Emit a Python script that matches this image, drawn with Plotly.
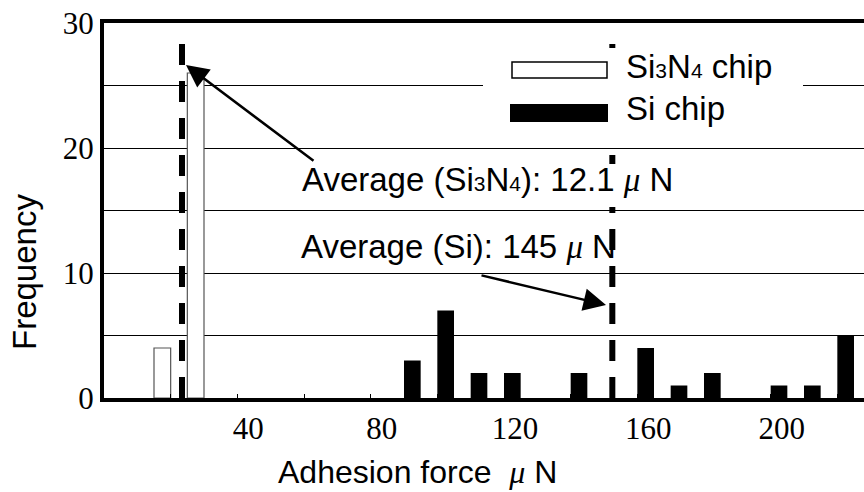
import plotly.graph_objects as go

# ---- data ----
si3n4_x = [17.5, 27.5]
si3n4_counts = [4, 26]
si_x = [92.5, 102.5, 112.5, 122.5, 142.5, 162.5, 172.5, 182.5, 202.5, 212.5, 222.5]
si_counts = [3, 7, 2, 2, 2, 4, 1, 2, 1, 1, 5]
avg_line_x = [23.4, 152.5]          # where the dashed average lines are drawn
avg_line_top = 28.9
x_tickvals = [40, 80, 120, 160, 200]
x_ticktext = ["40", "80", "120", "160", "200"]
y_tickvals = [0, 10, 20, 30]
y_ticktext = ["0", "10", "20", "30"]

W, H = 864, 492
L, R, T, B = 104, 864, 23, 398


def px(x):
    return (x - L) / (R - L)


def py(y):
    return (B - y) / (B - T)


SANS = "Liberation Sans, Arial, sans-serif"
SERIF = "Liberation Serif, Times New Roman, serif"
FS = 33
MU = "<span style=\"font-family:'Liberation Serif'\"><i>μ</i></span>"
SUB3 = "<span style=\"font-size:21px\">3</span>"
SUB4 = "<span style=\"font-size:21px\">4</span>"

fig = go.Figure()
fig.add_trace(go.Bar(x=si3n4_x, y=si3n4_counts, width=5, name="Si3N4 chip",
                     marker=dict(color="white", line=dict(color="#555", width=1.2)),
                     showlegend=False))
fig.add_trace(go.Bar(x=si_x, y=si_counts, width=5, name="Si chip",
                     marker=dict(color="black", line=dict(width=0)),
                     showlegend=False))
for xv in avg_line_x:
    fig.add_trace(go.Scatter(x=[xv, xv], y=[0, avg_line_top], mode="lines",
                             line=dict(color="black", width=6, dash="21px,16px"),
                             showlegend=False, hoverinfo="skip"))

shapes = []
# white boxes behind annotation texts
shapes.append(dict(type="rect", xref="paper", yref="paper", x0=px(298), x1=px(692),
                   y0=py(207), y1=py(164), fillcolor="white", line=dict(width=0), layer="above"))
shapes.append(dict(type="rect", xref="paper", yref="paper", x0=px(298), x1=px(620),
                   y0=py(285), y1=py(222), fillcolor="white", line=dict(width=0), layer="between"))
# legend
shapes.append(dict(type="rect", xref="paper", yref="paper", x0=px(483), x1=px(803),
                   y0=py(146), y1=py(48), fillcolor="white", line=dict(width=0), layer="above"))
shapes.append(dict(type="rect", xref="paper", yref="paper", x0=px(512), x1=px(607),
                   y0=py(78), y1=py(62), fillcolor="white", line=dict(color="black", width=1.5), layer="above"))
shapes.append(dict(type="rect", xref="paper", yref="paper", x0=px(510), x1=px(608),
                   y0=py(122), y1=py(104), fillcolor="black", line=dict(width=0), layer="above"))

ann = []
ann.append(dict(xref="paper", yref="paper", x=px(624), y=py(67), xanchor="left", yanchor="middle",
                text="Si" + SUB3 + "N" + SUB4 + " chip", showarrow=False,
                font=dict(family=SANS, size=FS, color="black")))
ann.append(dict(xref="paper", yref="paper", x=px(624), y=py(108), xanchor="left", yanchor="middle",
                text="Si chip", showarrow=False, font=dict(family=SANS, size=FS, color="black")))
ann.append(dict(xref="paper", yref="paper", x=px(300), y=py(179), xanchor="left", yanchor="middle",
                text="Average (Si" + SUB3 + "N" + SUB4 + "): 12.1 " + MU + " N", showarrow=False,
                font=dict(family=SANS, size=FS, color="black")))
ann.append(dict(xref="paper", yref="paper", x=px(299), y=py(246), xanchor="left", yanchor="middle",
                text="Average (Si): 145 " + MU + " N", showarrow=False,
                font=dict(family=SANS, size=FS, color="black")))
# arrows
ann.append(dict(xref="paper", yref="paper", x=px(186), y=py(65), ax=129, ay=97, text="",
                showarrow=True, arrowhead=2, arrowsize=1.8, arrowwidth=2.5, arrowcolor="black",
                standoff=0))
ann.append(dict(xref="paper", yref="paper", x=px(606), y=py(305), ax=-126, ay=-30, text="",
                showarrow=True, arrowhead=2, arrowsize=1.8, arrowwidth=2.5, arrowcolor="black",
                standoff=0))
# axis titles
ann.append(dict(xref="paper", yref="paper", x=px(417), y=py(472), xanchor="center", yanchor="middle",
                text="Adhesion force\u00a0\u00a0" + MU + " N", showarrow=False,
                font=dict(family=SANS, size=32, color="black")))
ann.append(dict(xref="paper", yref="paper", x=px(24), y=py(272), xanchor="center", yanchor="middle",
                text="Frequency", textangle=-90, showarrow=False,
                font=dict(family=SANS, size=FS, color="black")))

fig.update_layout(
    width=W, height=H,
    margin=dict(l=L, r=W - R, t=T, b=H - B),
    paper_bgcolor="white", plot_bgcolor="white",
    barmode="overlay",
    showlegend=False,
    shapes=shapes,
    annotations=ann,
    xaxis=dict(range=[0, 228], tickmode="array", tickvals=x_tickvals, ticktext=x_ticktext,
               ticks="inside", ticklen=4, tickwidth=1, tickcolor="black",
               ticklabelshift=11,
               minor=dict(ticks="inside", ticklen=4, tickwidth=1, tickcolor="black",
                          tick0=0, dtick=20, showgrid=False),
               showgrid=False, zeroline=False, showline=True, linewidth=4, linecolor="black",
               mirror=True, tickfont=dict(family=SERIF, size=31, color="black")),
    yaxis=dict(range=[0, 30], tickmode="array", tickvals=y_tickvals, ticktext=y_ticktext,
               ticks="inside", ticklen=4, tickwidth=1, tickcolor="black",
               showgrid=True, gridcolor="black", gridwidth=1,
               minor=dict(ticks="inside", ticklen=4, tickwidth=1, tickcolor="black",
                          tick0=0, dtick=5, showgrid=True, gridcolor="black", gridwidth=1),
               zeroline=False, showline=True, linewidth=4, linecolor="black",
               mirror=False, tickfont=dict(family=SERIF, size=31, color="black")),
)

fig.write_html("out.html")
